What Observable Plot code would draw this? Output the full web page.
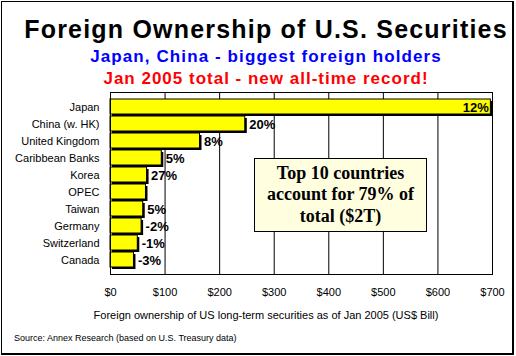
<!DOCTYPE html>
<html>
<head>
<meta charset="utf-8">
<script src="https://cdn.jsdelivr.net/npm/d3@7"></script>
<script src="https://cdn.jsdelivr.net/npm/@observablehq/plot@0.6"></script>
<style>
  html, body { margin: 0; padding: 0; background: #fff; }
  #wrap { position: relative; width: 516px; height: 356px; overflow: hidden; font-family: "Liberation Sans", Arial, sans-serif; }
  #border { position: absolute; left: 1px; top: 1px; width: 510px; height: 351px; border-left: 1px solid #000; border-top: 1px solid #000; border-right: 2px solid #000; border-bottom: 2px solid #000; }
  .t { position: absolute; left: 266px; transform: translateX(-50%); white-space: nowrap; font-weight: bold; line-height: 1; }
  #title { top: 17px; font-size: 25px; letter-spacing: 1.2px; color: #000; }
  #sub1 { top: 48px; font-size: 17px; letter-spacing: 1.1px; color: #0000ff; }
  #sub2 { top: 70px; font-size: 17px; letter-spacing: 1px; color: #ff0000; }
  #chart { position: absolute; left: 0; top: 84px; }
  #xlabel { position: absolute; top: 309px; left: 266px; transform: translateX(-50%); font-size: 11px; white-space: nowrap; color: #000; }
  #source { position: absolute; top: 333px; left: 14px; font-size: 9px; white-space: nowrap; color: #000; }
  #note { position: absolute; left: 254px; top: 158px; width: 171px; height: 72px; background: #ffffe0; border: 1px solid #000;
          font-family: "Liberation Serif", "Times New Roman", serif; font-weight: bold; font-size: 18px; line-height: 21.5px; text-align: center;
          display: flex; align-items: center; justify-content: center; }
</style>
</head>
<body>
<div id="wrap">
  <div id="title" class="t">Foreign Ownership of U.S. Securities</div>
  <div id="sub1" class="t">Japan, China - biggest foreign holders</div>
  <div id="sub2" class="t">Jan 2005 total - new all-time record!</div>
  <div id="chart"></div>
  <div id="note">Top 10 countries<br>account for 79% of<br>total ($2T)</div>
  <div id="xlabel">Foreign ownership of US long-term securities as of Jan 2005 (US$ Bill)</div>
  <div id="source">Source: Annex Research (based on U.S. Treasury data)</div>
  <div id="border"></div>
</div>
<script>
const countries = ["Japan", "China (w. HK)", "United Kingdom", "Caribbean Banks", "Korea", "OPEC", "Taiwan", "Germany", "Switzerland", "Canada"];
const holdings = [697, 247, 164, 94, 67, 65, 60, 57, 50, 43];
const changes = ["12%", "20%", "8%", "5%", "27%", "", "5%", "-2%", "-1%", "-3%"];
const xTicks = [0, 100, 200, 300, 400, 500, 600, 700];

const data = countries.map((c, i) => ({country: c, value: holdings[i], change: changes[i]}));
const inside = data.filter(d => d.value > 600);
const outside = data.filter(d => d.value <= 600 && d.change !== "");

const chart = Plot.plot({
  width: 516,
  height: 240,
  marginLeft: 110,
  marginRight: 24,
  marginTop: 8,
  marginBottom: 50,
  style: {fontFamily: "'Liberation Sans', Arial, sans-serif", fontSize: "11px", color: "#000", background: "transparent"},
  x: {domain: [0, 700], ticks: xTicks, tickFormat: d => "$" + d, tickSize: 0, tickPadding: 14, label: null},
  y: {domain: countries, padding: 0.12, tickSize: 0, tickPadding: 11, label: null},
  marks: [
    Plot.ruleX(xTicks, {stroke: "#000", strokeWidth: 1, strokeOpacity: 1}),
    Plot.barX(data, {x: "value", y: "country", fill: "#000", dx: 2, dy: 2}),
    Plot.barX(data, {x: "value", y: "country", fill: "#ffff00", stroke: "#000", strokeWidth: 1}),
    Plot.text(outside, {x: "value", y: "country", text: "change", textAnchor: "start", dx: 4, dy: 1, fontWeight: "bold", fontSize: 13, fill: "#000"}),
    Plot.text(inside, {x: "value", y: "country", text: "change", textAnchor: "end", dx: -2, dy: 1, fontWeight: "bold", fontSize: 13, fill: "#000"}),
    Plot.frame({stroke: "#000", strokeWidth: 1})
  ]
});
document.getElementById("chart").appendChild(chart);
</script>
</body>
</html>
